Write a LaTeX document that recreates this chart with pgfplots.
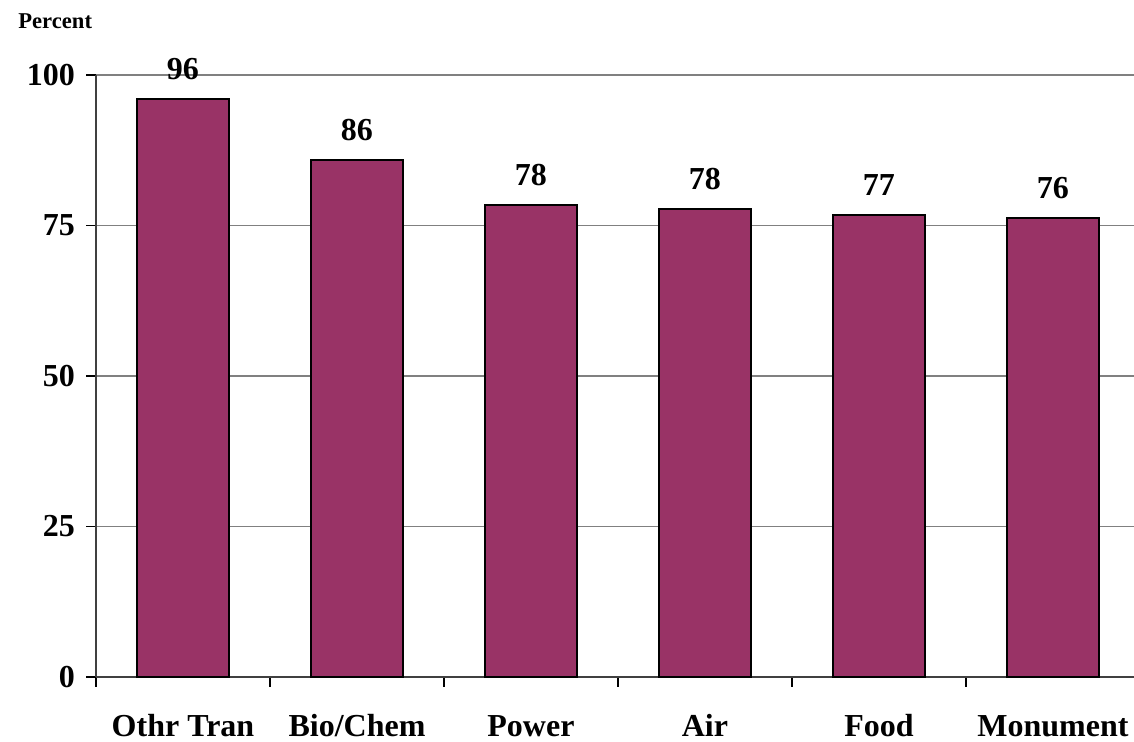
\documentclass[border=0pt]{standalone}
\usepackage{fontspec}
\setmainfont{Liberation Serif}
\usepackage{pgfplots}
\pgfplotsset{compat=1.18}
\definecolor{plum}{HTML}{993366}
\newcommand{\bigfont}{\fontsize{16}{18}\selectfont\bfseries}
\begin{document}
\begin{tikzpicture}
\path[use as bounding box] (0,0) rectangle (567pt,371pt);
\begin{axis}[
    at={(48pt,32.5pt)}, anchor=south west,
    scale only axis,
    width=519pt, height=301pt,
    ybar, bar width=46pt,
    ymin=0, ymax=100,
    xmin=-0.5, xmax=5.466,
    ytick={0,25,50,75,100},
    xtick={0,...,5},
    xticklabels={Othr Tran, Bio/Chem, Power, Air, Food, Monument},
    minor xtick={-0.5,0.5,1.5,2.5,3.5,4.5},
    major x tick style={draw=none},
    minor x tick style={draw=black, line width=0.6pt},
    minor tick length=5pt,
    major tick length=5pt,
    tick align=outside,
    ytick style={draw=black, line width=0.6pt},
    axis lines*=left,
    axis line style={draw=black!75, line width=0.8pt},
    ymajorgrids,
    grid style={draw=black!50, line width=0.6pt},
    /pgf/number format/assume math mode=true,
    tick label style={font=\bigfont},
    x tick label style={anchor=base, yshift=-25pt},
    y tick label style={xshift=-2pt},
    nodes near coords={\pgfmathprintnumber[fixed,precision=0]{\pgfplotspointmeta}},
    every node near coord/.append style={font=\bigfont, yshift=6pt},
    clip=false,
]
\addplot[fill=plum, draw=black, line width=1pt] coordinates {
    (0,96.0) (1,85.8) (2,78.4) (3,77.7) (4,76.7) (5,76.2)
};
\end{axis}
\node[anchor=base west, font=\fontsize{11.3}{13}\selectfont\bfseries, inner sep=0pt] at (9pt,356.5pt) {Percent};
\end{tikzpicture}
\end{document}
